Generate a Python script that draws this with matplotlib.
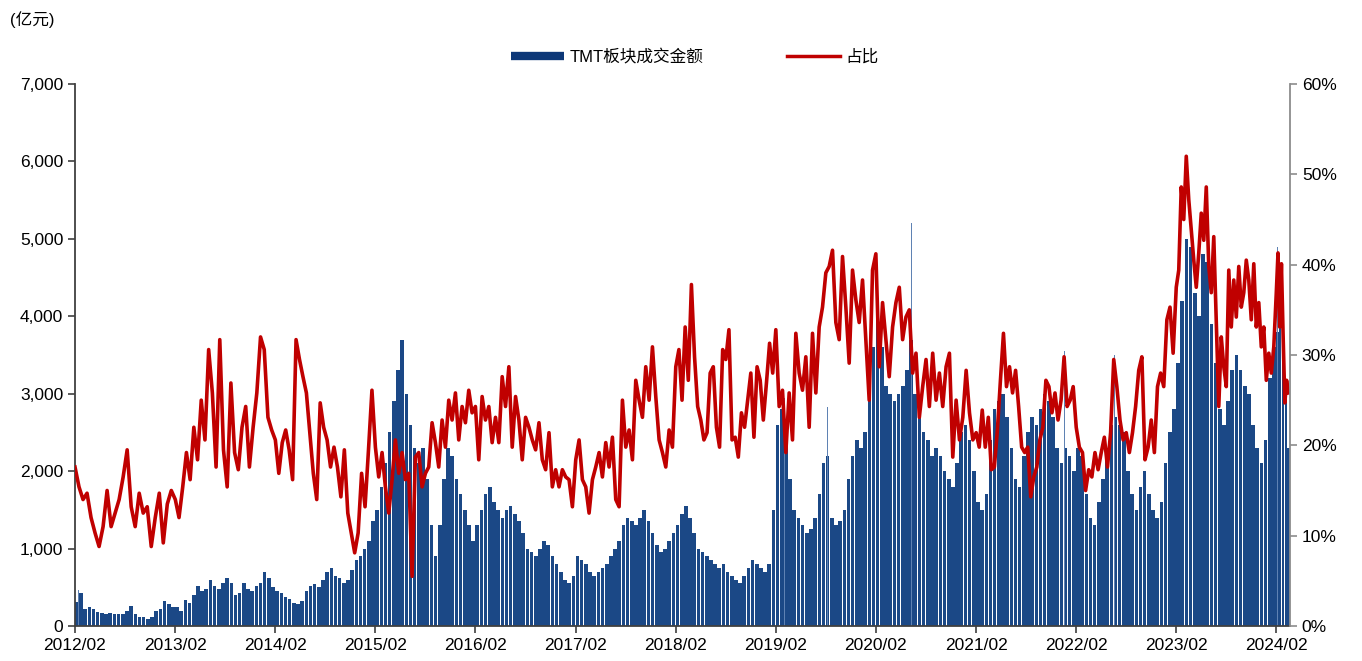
import numpy as np
import pandas as pd
import matplotlib
matplotlib.use('Agg')
import matplotlib.pyplot as plt
import matplotlib.dates as mdates
from matplotlib.lines import Line2D
from matplotlib.ticker import FuncFormatter

plt.rcParams['font.family'] = ['Liberation Sans', 'Noto Sans CJK SC']

# TMT turnover (100m CNY), roughly half-month envelope, per year Feb->Feb
amt_2012 = [310, 420, 220, 240, 220, 180, 170, 160, 170, 150, 160, 150, 190, 260, 150, 120, 110, 90, 110, 200, 220, 320, 280, 250]
amt_2013 = [250, 200, 330, 300, 400, 520, 450, 480, 600, 520, 480, 560, 620, 560, 400, 420, 560, 480, 450, 520, 560, 700, 620, 500]
amt_2014 = [450, 420, 380, 350, 300, 280, 320, 450, 520, 540, 500, 600, 700, 750, 640, 620, 560, 600, 720, 850, 900, 1000, 1100, 1350]
amt_2015 = [1500, 1800, 2100, 2500, 2900, 3300, 3700, 3000, 2600, 2300, 2100, 2300, 1900, 1300, 900, 1300, 1900, 2300, 2200, 1900, 1700, 1500, 1300, 1100]
amt_2016 = [1300, 1500, 1700, 1800, 1600, 1500, 1400, 1500, 1550, 1450, 1350, 1200, 1000, 950, 900, 1000, 1100, 1050, 900, 800, 700, 600, 550, 650]
amt_2017 = [900, 850, 800, 700, 650, 700, 750, 800, 900, 1000, 1100, 1300, 1400, 1350, 1300, 1400, 1500, 1350, 1200, 1050, 950, 1000, 1100, 1200]
amt_2018 = [1300, 1450, 1550, 1400, 1200, 1000, 950, 900, 850, 800, 750, 800, 700, 650, 600, 550, 650, 750, 850, 800, 750, 700, 800, 1500]
amt_2019 = [2600, 2800, 2400, 1900, 1500, 1400, 1300, 1200, 1250, 1400, 1700, 2100, 2200, 1400, 1300, 1350, 1500, 1900, 2200, 2400, 2300, 2500, 3000, 3600]
amt_2020 = [4200, 3600, 3100, 3000, 2900, 3000, 3100, 3300, 3700, 3000, 2700, 2500, 2400, 2200, 2300, 2200, 2000, 1900, 1800, 2100, 2500, 2600, 2400, 2000]
amt_2021 = [1600, 1500, 1700, 2400, 2800, 2900, 3000, 2700, 2300, 1900, 1800, 2200, 2500, 2700, 2600, 2800, 3000, 2900, 2700, 2300, 2100, 2300, 2200, 2000]
amt_2022 = [2300, 2200, 1700, 1400, 1300, 1600, 1900, 2300, 2600, 2700, 2600, 2500, 2000, 1700, 1500, 1800, 2000, 1700, 1500, 1400, 1600, 2100, 2500, 2800]
amt_2023 = [3400, 4200, 5000, 4900, 4300, 4000, 4800, 4700, 3900, 3400, 2800, 2600, 2900, 3300, 3500, 3300, 3100, 3000, 2600, 2300, 2100, 2400, 3200, 3600]
amt_2024 = [3800, 4000, 3600, 3000, 2300]

# single-day spikes
spike_dates = ['2012-02-15', '2015-05-20', '2019-03-05', '2019-08-08', '2020-02-05', '2020-06-10',
               '2021-06-30', '2021-12-20', '2022-06-20', '2023-03-08', '2024-02-05']
spike_values = [460, 4100, 2950, 2830, 5850, 5200, 4350, 3550, 3500, 6330, 4900]

# share of TMT in total turnover (%)
pct_2012 = [17.6, 15.4, 14.0, 14.7, 12.0, 10.3, 8.8, 11.0, 15.0, 11.0, 12.5, 14.0, 16.5, 19.5, 13.2, 11.0, 14.7, 12.5, 13.2, 8.8, 12.0, 14.7, 9.2, 13.5, 15.0]
pct_2013 = [14.0, 12.0, 15.4, 19.2, 16.2, 22.0, 18.4, 25.0, 20.6, 30.6, 25.8, 17.6, 31.7, 19.5, 15.4, 26.9, 19.2, 17.3, 22.0, 24.3, 17.6, 22.0, 25.8, 32.0, 30.6, 23.1, 21.7]
pct_2014 = [20.6, 16.9, 20.3, 21.7, 19.5, 16.2, 31.7, 29.5, 27.6, 25.8, 21.4, 16.9, 14.0, 24.7, 22.0, 20.6, 17.6, 19.8, 17.6, 14.3, 19.5, 12.5, 10.3, 8.1, 10.3, 16.9, 13.2, 19.5, 26.1]
pct_2015 = [19.8, 16.5, 19.2, 15.4, 12.5, 16.2, 20.6, 16.9, 19.2, 16.2, 16.9, 5.5, 18.7, 19.2, 15.4, 16.9, 17.6, 22.5, 20.3, 17.6, 22.8, 19.8, 25.0, 22.8, 25.8, 20.6, 24.3, 22.5, 26.1, 23.6]
pct_2016 = [24.3, 18.4, 25.4, 22.8, 24.3, 20.3, 23.1, 20.3, 27.6, 24.3, 28.7, 19.8, 25.4, 22.8, 18.4, 23.1, 22.0, 20.6, 19.5, 22.5, 18.4, 17.3, 21.4, 15.4, 17.3, 15.4, 17.3, 16.5, 16.2, 13.2]
pct_2017 = [18.4, 20.6, 16.2, 15.4, 12.5, 16.2, 17.6, 19.2, 16.5, 20.3, 17.6, 20.9, 14.0, 13.2, 25.0, 19.8, 21.7, 18.4, 27.2, 25.0, 23.1, 28.7, 25.0, 30.9, 25.4, 20.6, 19.2, 17.6, 21.7, 19.8]
pct_2018 = [28.7, 30.6, 25.0, 33.1, 27.2, 37.8, 29.8, 24.3, 22.8, 20.6, 21.4, 28.0, 28.7, 22.0, 19.8, 30.6, 29.5, 32.8, 20.6, 20.9, 18.7, 23.6, 22.0, 25.0, 28.0, 20.9, 28.7, 27.2, 22.8, 26.9, 31.3, 28.0]
pct_2019 = [32.8, 24.3, 26.1, 19.2, 25.8, 20.6, 32.4, 28.0, 26.1, 29.8, 22.0, 32.4, 25.8, 33.1, 35.3, 39.1, 39.8, 41.6, 33.6, 31.7, 40.9, 35.3, 29.1, 39.4, 36.1, 33.6, 38.3, 31.7, 25.0, 39.4]
pct_2020 = [41.2, 28.7, 35.8, 31.7, 27.6, 33.1, 35.8, 37.5, 31.7, 34.2, 35.0, 28.0, 30.2, 23.1, 26.5, 29.5, 24.3, 30.2, 25.0, 28.0, 24.3, 28.7, 30.2, 18.7, 25.0, 20.6, 23.1, 28.3, 23.6, 20.6]
pct_2021 = [21.4, 19.8, 23.9, 19.8, 23.1, 17.3, 17.6, 21.7, 27.2, 32.4, 26.5, 28.7, 25.8, 28.3, 24.3, 19.8, 19.2, 19.8, 14.3, 16.5, 17.6, 20.6, 22.0, 27.2, 26.5, 23.6, 25.8, 22.8, 25.0, 29.8, 24.3, 25.0, 26.5]
pct_2022 = [22.0, 19.8, 19.2, 15.0, 17.3, 16.5, 19.2, 17.3, 19.2, 20.9, 17.6, 21.4, 29.5, 26.5, 22.8, 20.6, 21.4, 19.2, 21.4, 24.3, 28.3, 29.8, 18.4, 19.8, 22.8, 19.2, 26.5, 28.0, 26.5, 33.9, 35.3, 30.2]
pct_2023 = [37.5, 39.4, 48.6, 45.0, 52.0, 47.2, 43.9, 40.5, 37.5, 41.3, 45.7, 42.7, 48.6, 39.8, 36.9, 43.1, 33.9, 24.3, 32.0, 28.7, 26.5, 39.4, 33.1, 38.3, 34.2, 39.8, 35.3, 36.9, 40.5, 38.3, 33.9, 40.1, 33.1, 35.8, 30.9, 33.1, 27.2, 30.2, 28.0, 30.9]
pct_2024 = [36.9, 41.3, 33.1, 40.1, 32.0, 24.7, 27.2, 25.8]

amt_by_year = [amt_2012, amt_2013, amt_2014, amt_2015, amt_2016, amt_2017, amt_2018,
               amt_2019, amt_2020, amt_2021, amt_2022, amt_2023, amt_2024]
pct_by_year = [pct_2012, pct_2013, pct_2014, pct_2015, pct_2016, pct_2017, pct_2018,
               pct_2019, pct_2020, pct_2021, pct_2022, pct_2023, pct_2024]
last_day = '2024-03-22'


def spread(year, n):
    start = mdates.date2num(pd.Timestamp(f'{year}-02-01'))
    stop = mdates.date2num(pd.Timestamp(last_day if year == 2024 else f'{year + 1}-02-01'))
    step = (stop - start) / n
    return start + step * np.arange(n), step


bar_x, bar_w, bar_h = [], [], []
line_x, line_y = [], []
for i, year in enumerate(range(2012, 2025)):
    xs, step = spread(year, len(amt_by_year[i]))
    bar_x += list(xs)
    bar_w += [step * 0.86] * len(xs)
    bar_h += amt_by_year[i]
    xs, step = spread(year, len(pct_by_year[i]))
    line_x += list(xs)
    line_y += pct_by_year[i]

navy = '#1b4886'
red = '#c00000'

fig = plt.figure(figsize=(13.62, 6.61), dpi=100)
ax = fig.add_axes([75 / 1362, 1 - 626 / 661, (1290 - 75) / 1362, (626 - 84) / 661])
ax.bar(bar_x, bar_h, width=bar_w, align='edge', color=navy, linewidth=0)
ax.bar(mdates.date2num(pd.to_datetime(spike_dates)), spike_values, width=2.5,
       align='center', color='#5f82b3', linewidth=0)

ax2 = ax.twinx()
ax2.plot(line_x, line_y, color=red, linewidth=2.6)

ax.set_xlim(mdates.date2num(pd.Timestamp('2012-02-01')), mdates.date2num(pd.Timestamp(last_day)))
ax.set_ylim(0, 7000)
ax2.set_ylim(0, 60)
ax.set_yticks(np.arange(0, 7001, 1000))
ax2.set_yticks(np.arange(0, 61, 10))
ax.yaxis.set_major_formatter(FuncFormatter(lambda v, p: f'{v:,.0f}'))
ax2.yaxis.set_major_formatter(FuncFormatter(lambda v, p: f'{v:.0f}%'))

ticks = [mdates.date2num(pd.Timestamp(f'{y}-02-01')) for y in range(2012, 2025)]
ax.set_xticks(ticks)
ax.set_xticklabels([f'{y}/02' for y in range(2012, 2025)])

for a in (ax, ax2):
    a.spines['top'].set_visible(False)
ax.spines['right'].set_visible(False)
ax2.spines['left'].set_visible(False)
ax2.spines['bottom'].set_visible(False)
ax.spines['left'].set_color('#404040')
ax.spines['bottom'].set_color('#404040')
ax2.spines['right'].set_color('#8c8c8c')
ax.spines['left'].set_linewidth(1.3)
ax.spines['bottom'].set_linewidth(1.3)
ax2.spines['right'].set_linewidth(1.3)
ax.tick_params(axis='both', direction='out', length=5, width=1.2, colors='#404040', labelsize=12.5, labelcolor='black')
ax2.tick_params(axis='y', direction='out', length=5, width=1.2, colors='#8c8c8c', labelsize=12.5, labelcolor='black')
ax.tick_params(axis='x', pad=4)

fig.text(10 / 1362, 1 - 20 / 661, '(亿元)', fontsize=12, va='center', ha='left')

handles = [Line2D([], [], color='#0d3878', linewidth=6, solid_capstyle='butt'),
           Line2D([], [], color=red, linewidth=2.5)]
fig.legend(handles, ['TMT板块成交金额', '占比'], loc='center', bbox_to_anchor=(0.51, 1 - 57 / 661),
           ncol=2, frameon=False, fontsize=12, handlelength=3.2, handletextpad=0.3, columnspacing=5.0)

fig.savefig('out.png', dpi=100)
